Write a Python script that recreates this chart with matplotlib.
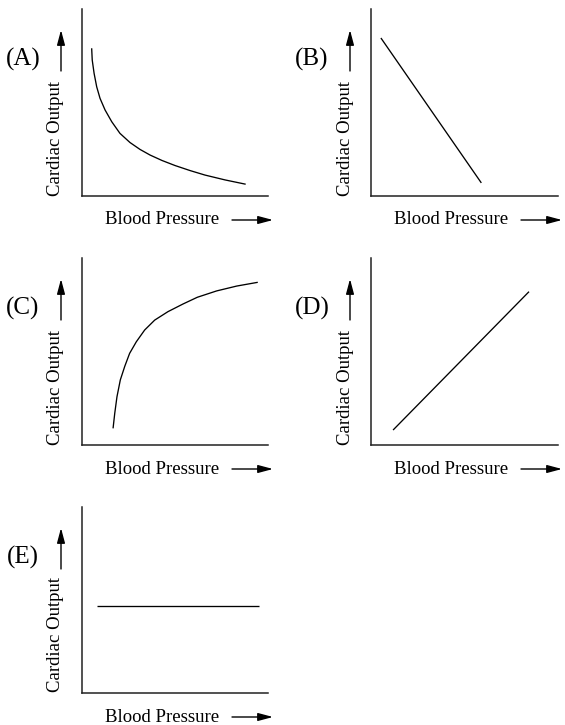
import matplotlib
matplotlib.use("Agg")
import matplotlib.pyplot as plt
from matplotlib.patches import FancyArrowPatch

plt.rcParams['font.family'] = ['Liberation Serif', 'DejaVu Serif']

W, H = 565, 725

# ---- data (axes in 0..1 units) ----
panel_letters = ["(A)", "(B)", "(C)", "(D)", "(E)"]
x_label = "Blood Pressure"
y_label = "Cardiac Output"

curve_a_x = [0.052, 0.055, 0.065, 0.079, 0.097, 0.124, 0.160, 0.204, 0.258, 0.312,
             0.366, 0.430, 0.500, 0.581, 0.661, 0.769, 0.880]
curve_a_y = [0.790, 0.727, 0.656, 0.584, 0.522, 0.460, 0.397, 0.335, 0.286, 0.249,
             0.219, 0.190, 0.163, 0.136, 0.112, 0.086, 0.063]

line_b_x = [0.053, 0.590]
line_b_y = [0.845, 0.070]

curve_c_x = [0.167, 0.176, 0.188, 0.206, 0.230, 0.256, 0.292, 0.337, 0.391, 0.462,
             0.543, 0.620, 0.724, 0.832, 0.945]
curve_c_y = [0.089, 0.169, 0.258, 0.348, 0.421, 0.490, 0.552, 0.615, 0.668, 0.713,
             0.754, 0.790, 0.824, 0.850, 0.870]

line_d_x = [0.118, 0.845]
line_d_y = [0.080, 0.820]

line_e_x = [0.080, 0.950]
line_e_y = [0.470, 0.470]

series = [(curve_a_x, curve_a_y), (line_b_x, line_b_y), (curve_c_x, curve_c_y),
          (line_d_x, line_d_y), (line_e_x, line_e_y)]

# axes boxes in pixels: left, right, top, bottom (from top of figure)
boxes = [(82, 268, 9, 196), (371, 558, 9, 196),
         (82, 268, 258, 445), (371, 558, 258, 445),
         (82, 268, 507, 693)]

fig = plt.figure(figsize=(W / 100, H / 100), dpi=100)


def fx(px):
    return px / W


def fy(py):
    return 1 - py / H


arrow_kw = dict(arrowstyle='-|>,head_length=0.75,head_width=0.2', color='black',
                lw=1.0, shrinkA=0, shrinkB=0, mutation_scale=12)

for (L, R, T, B), letter, (xs, ys) in zip(boxes, panel_letters, series):
    ax = fig.add_axes([fx(L), fy(B), (R - L) / W, (B - T) / H])
    ax.plot(xs, ys, color='black', lw=0.95, solid_capstyle='butt',
            solid_joinstyle='round')
    ax.set_xlim(0, 1)
    ax.set_ylim(0, 1)
    ax.set_xticks([])
    ax.set_yticks([])
    for s in ('top', 'right'):
        ax.spines[s].set_visible(False)
    for s in ('left', 'bottom'):
        ax.spines[s].set_linewidth(1.1)
        ax.spines[s].set_color('#222222')

    # panel letter
    fig.text(fx(L - 59), fy(T + 50), letter, fontsize=18, ha='center', va='center')
    # up arrow
    fig.add_artist(FancyArrowPatch(
        (fx(L - 21), fy(T + 62)), (fx(L - 21), fy(T + 21)),
        transform=fig.transFigure, **arrow_kw))
    # y label
    fig.text(fx(L - 26), fy(B - 58), y_label, fontsize=13.5, rotation=90,
             ha='center', va='center')
    # x label
    fig.text(fx(L + 80), fy(B + 24), x_label, fontsize=13.5, ha='center', va='center')
    # right arrow
    fig.add_artist(FancyArrowPatch(
        (fx(L + 150), fy(B + 24)), (fx(L + 191), fy(B + 24)),
        transform=fig.transFigure, **arrow_kw))

fig.savefig("out.png", dpi=100, facecolor='white')
